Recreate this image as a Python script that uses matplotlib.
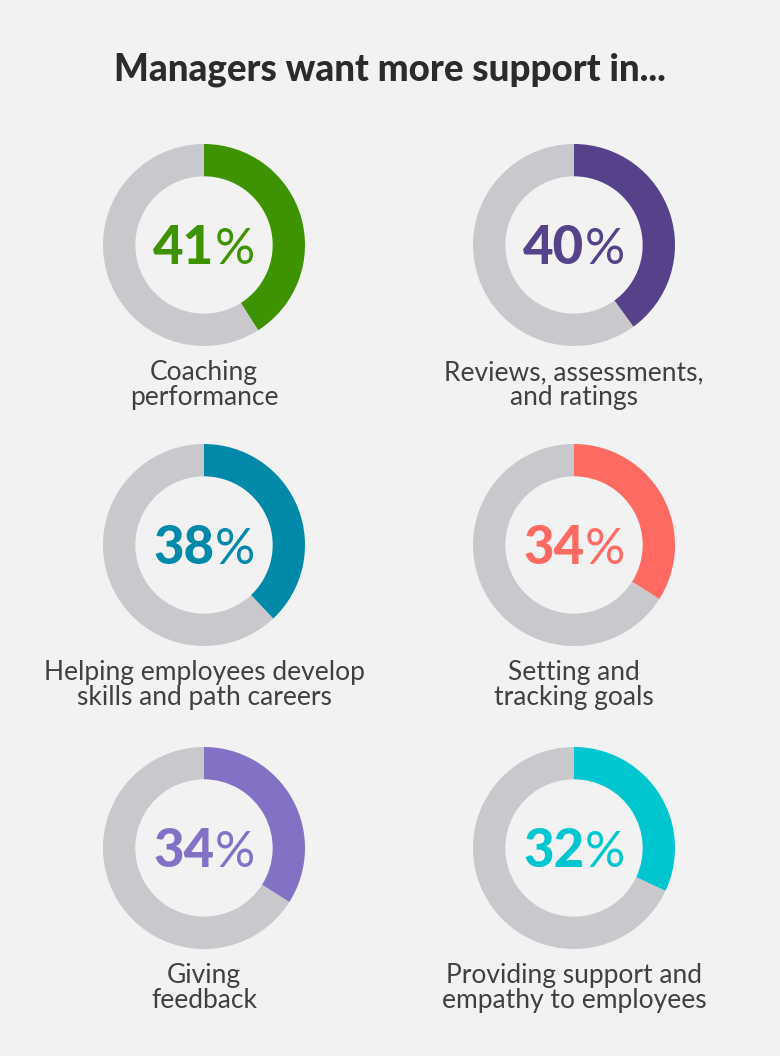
import matplotlib
matplotlib.use("Agg")
import matplotlib.pyplot as plt
from matplotlib import font_manager as fm

# ---- data ----
title = "Managers want more support in..."
categories = [
    "Coaching\nperformance",
    "Reviews, assessments,\nand ratings",
    "Helping employees develop\nskills and path careers",
    "Setting and\ntracking goals",
    "Giving\nfeedback",
    "Providing support and\nempathy to employees",
]
values = [41, 40, 38, 34, 34, 32]
colors = ["#3e9400", "#56418b", "#0089a9", "#ff6b63", "#8371c6", "#00c6d0"]

BG = "#f2f2f2"
RING = "#c9c9cd"
TXT = "#404040"

W, H = 780, 1056
DPI = 100
fig = plt.figure(figsize=(W / DPI, H / DPI), dpi=DPI, facecolor=BG)

fam = "Lato"
avail = {f.name for f in fm.fontManager.ttflist}
if fam not in avail:
    fam = "DejaVu Sans"

main = fig.add_axes([0, 0, 1, 1])
main.set_xlim(0, W)
main.set_ylim(H, 0)
main.axis("off")
main.set_facecolor(BG)

main.text(390, 70, title, ha="center", va="center", fontsize=26.5,
          fontweight="black", color="#2b2b2b", family=fam)

col_x = [204, 574]
row_y = [245, 545, 848]
R = 101

renderer = fig.canvas.get_renderer()

for i, (cat, v, c) in enumerate(zip(categories, values, colors)):
    cx = col_x[i % 2]
    cy = row_y[i // 2]
    ax = fig.add_axes([(cx - R) / W, 1 - (cy + R) / H, 2 * R / W, 2 * R / H])
    ax.pie([v, 100 - v], colors=[c, RING], startangle=90, counterclock=False,
           wedgeprops=dict(width=0.32, linewidth=0))
    ax.set_xlim(-1, 1)
    ax.set_ylim(-1, 1)
    ax.set_aspect("equal")
    ax.axis("off")

    # percent label: heavy number + regular %
    t1 = main.text(0, cy + 19, f"{v}", ha="left", va="baseline", fontsize=38,
                   fontweight="black", color=c, family=fam)
    t2 = main.text(0, cy + 19, "%", ha="left", va="baseline", fontsize=36,
                   fontweight="normal", color=c, family=fam)
    w1 = t1.get_window_extent(renderer).width
    w2 = t2.get_window_extent(renderer).width
    x0 = cx - (w1 + w2) / 2
    t1.set_x(x0)
    t2.set_x(x0 + w1)

    main.text(cx, cy + 140, cat, ha="center", va="center", fontsize=19,
              fontweight="normal", color=TXT, family=fam, linespacing=1.0)

fig.savefig("out.png", dpi=DPI, facecolor=BG)
